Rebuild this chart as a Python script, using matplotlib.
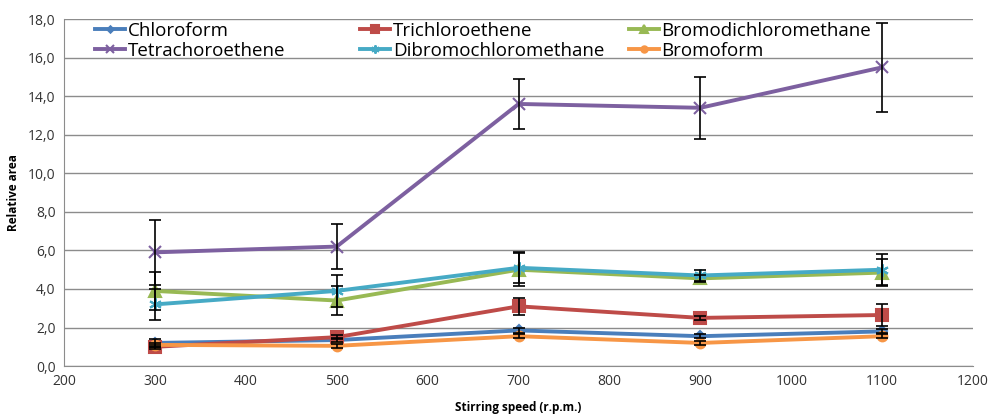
import numpy as np
import matplotlib
matplotlib.use("Agg")
import matplotlib.pyplot as plt
from matplotlib.legend import Legend
from matplotlib.ticker import FuncFormatter, MultipleLocator

plt.rcParams["font.family"] = ["Open Sans", "DejaVu Sans"]

# stirring speeds (r.p.m.)
speed = [300, 500, 700, 900, 1100]

# relative area per compound, with the error bar half-widths
chloroform     = [1.20, 1.35, 1.85, 1.55, 1.80]
chloroform_err = [0.20, 0.10, 0.15, 0.10, 0.10]
trichloro      = [1.00, 1.50, 3.10, 2.50, 2.65]
trichloro_err  = [0.10, 0.10, 0.45, 0.10, 0.55]
bromodichloro  = [3.90, 3.40, 5.00, 4.55, 4.85]
bromodichloro_err = [1.00, 0.75, 0.85, 0.20, 0.70]
tetrachloro    = [5.90, 6.20, 13.60, 13.40, 15.50]
tetrachloro_err = [1.70, 1.15, 1.30, 1.60, 2.30]
dibromochloro  = [3.20, 3.90, 5.10, 4.70, 5.00]
dibromochloro_err = [0.80, 0.85, 0.80, 0.30, 0.80]
bromoform      = [1.10, 1.05, 1.55, 1.20, 1.55]
bromoform_err  = [0.10, 0.10, 0.10, 0.10, 0.10]

# (label, values, errors, colour, marker, size) -- ordered like Excel's legend, row by row
series = [
    ("Chloroform",            chloroform,    chloroform_err,    "#4A7EBB", "D", 5),
    ("Trichloroethene",       trichloro,     trichloro_err,     "#BE4B48", "s", 8),
    ("Bromodichloromethane",  bromodichloro, bromodichloro_err, "#98B954", "^", 8),
    ("Tetrachoroethene",      tetrachloro,   tetrachloro_err,   "#7D60A0", "x", 8),
    ("Dibromochloromethane",  dibromochloro, dibromochloro_err, "#46AAC5", (6, 2, 0), 9),
    ("Bromoform",             bromoform,     bromoform_err,     "#F79646", "o", 7),
]

fig = plt.figure(figsize=(9.9, 4.16), dpi=100)
ax = fig.add_axes([0.0646, 0.120, 0.9184, 0.834])

handles = []
for name, vals, err, col, mk, ms in series:
    ax.errorbar(speed, vals, yerr=err, fmt="none", ecolor="black",
                elinewidth=1.2, capsize=4, capthick=1.2, zorder=4)
    h, = ax.plot(speed, vals, color=col, linewidth=2.8, marker=mk, markersize=ms,
                 markeredgecolor=col, markeredgewidth=1.5, label=name, zorder=3)
    handles.append(h)

ax.set_xlim(200, 1200)
ax.set_ylim(0, 18)
ax.xaxis.set_major_locator(MultipleLocator(100))
ax.yaxis.set_major_locator(MultipleLocator(2))
ax.yaxis.set_major_formatter(FuncFormatter(lambda v, p: f"{v:.1f}".replace(".", ",")))
ax.grid(axis="y", color="#8C8C8C", linewidth=1.0)
ax.set_axisbelow(True)
ax.tick_params(length=0, labelsize=10, colors="#333333", pad=6)
for s in ["top", "right"]:
    ax.spines[s].set_visible(False)
for s in ["left", "bottom"]:
    ax.spines[s].set_color("#8C8C8C")

ax.set_xlabel("Stirring speed (r.p.m.)", fontsize=8.5, fontweight="bold", labelpad=8)
ax.set_ylabel("Relative area", fontsize=8.5, fontweight="bold", labelpad=6)

# Excel spaces legend columns evenly, so one small legend per column
col_x = [0.034, 0.326, 0.621]
for i, x in enumerate(col_x):
    leg = Legend(ax, [handles[i], handles[i + 3]],
                 [series[i][0], series[i + 3][0]], loc="upper left",
                 bbox_to_anchor=(x, 0.993), frameon=False, fontsize=13.5,
                 handlelength=1.6, handletextpad=0.15, labelspacing=0.12,
                 borderpad=0, borderaxespad=0, markerscale=0.65)
    ax.add_artist(leg)

fig.savefig("out.png", dpi=100, facecolor="white")
